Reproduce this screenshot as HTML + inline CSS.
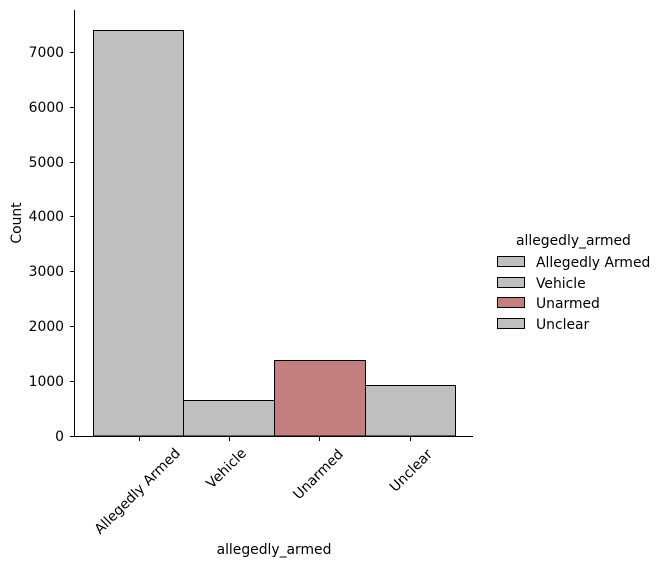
<!DOCTYPE html>
<html><head><style>body{margin:0;background:#fff}svg{display:block}text{font-family:"DejaVu Sans","Liberation Sans",sans-serif;font-size:13.9px;fill:#000}.yt{font-size:12.5px}</style></head>
<body>
<svg width="662" height="566" viewBox="0 0 662 566" xmlns="http://www.w3.org/2000/svg">
<g stroke="#000" stroke-width="1">
<rect x="93.5" y="30.5" width="90" height="405.5" fill="#bfbfbf"/>
<rect x="183.5" y="400.5" width="91" height="35.5" fill="#bfbfbf"/>
<rect x="274.5" y="360.5" width="91" height="75.5" fill="#c27f7e"/>
<rect x="365.5" y="385.5" width="90" height="50.5" fill="#bfbfbf"/>
</g>
<g stroke="#000" stroke-width="1">
<line x1="74.5" y1="10" x2="74.5" y2="436.5"/>
<line x1="74" y1="436.5" x2="473" y2="436.5"/>
<line x1="70" y1="436.5" x2="74" y2="436.5"/>
<line x1="70" y1="381.5" x2="74" y2="381.5"/>
<line x1="70" y1="326.5" x2="74" y2="326.5"/>
<line x1="70" y1="271.5" x2="74" y2="271.5"/>
<line x1="70" y1="216.5" x2="74" y2="216.5"/>
<line x1="70" y1="162.5" x2="74" y2="162.5"/>
<line x1="70" y1="107.5" x2="74" y2="107.5"/>
<line x1="70" y1="52.5" x2="74" y2="52.5"/>
<line x1="139.5" y1="436.5" x2="139.5" y2="441"/>
<line x1="229.5" y1="436.5" x2="229.5" y2="441"/>
<line x1="319.5" y1="436.5" x2="319.5" y2="441"/>
<line x1="410.5" y1="436.5" x2="410.5" y2="441"/>
</g>
<g text-anchor="end" class="yt">
<text x="64" y="441">0</text>
<text x="64" y="386">1000</text>
<text x="64" y="331">2000</text>
<text x="64" y="276">3000</text>
<text x="64" y="221">4000</text>
<text x="64" y="167">5000</text>
<text x="64" y="112">6000</text>
<text x="64" y="57">7000</text>
</g>
<g text-anchor="end">
<text transform="translate(181,454) rotate(-45)">Allegedly Armed</text>
<text transform="translate(247,454) rotate(-45)">Vehicle</text>
<text transform="translate(344,455) rotate(-45)">Unarmed</text>
<text transform="translate(433,455) rotate(-45)">Unclear</text>
</g>
<text x="274" y="554" text-anchor="middle">allegedly_armed</text>
<text transform="translate(21,223) rotate(-90)" text-anchor="middle">Count</text>
<text x="516" y="245">allegedly_armed</text>
<g stroke="#000" stroke-width="1">
<rect x="497.5" y="256.5" width="27" height="10" fill="#bfbfbf"/>
<rect x="497.5" y="277.5" width="27" height="10" fill="#bfbfbf"/>
<rect x="497.5" y="297.5" width="27" height="10" fill="#c27f7e"/>
<rect x="497.5" y="318.5" width="27" height="10" fill="#bfbfbf"/>
</g>
<text x="536" y="267">Allegedly Armed</text>
<text x="536" y="288">Vehicle</text>
<text x="536" y="308">Unarmed</text>
<text x="536" y="329">Unclear</text>
</svg>
</body></html>
